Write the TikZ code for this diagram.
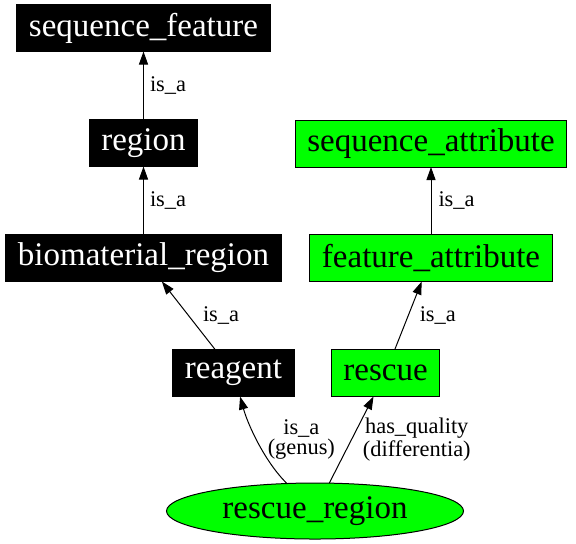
\documentclass[tikz,border=0pt]{standalone}
\usepackage{fontspec}
\setmainfont{Liberation Serif}
\usetikzlibrary{arrows.meta,shapes.geometric}
\definecolor{gvgreen}{RGB}{0,255,0}

\begin{document}
\begin{tikzpicture}[
    x=0.5pt, y=-0.5pt,
    term/.style={rectangle, draw=black, line width=0.5pt, minimum height=23.5pt, inner xsep=6pt, inner ysep=0pt, outer sep=0pt, font=\fontsize{16.5}{19}\selectfont},
    blackbox/.style={term, fill=black, text=white},
    greenbox/.style={term, fill=gvgreen, text=black},
    oval/.style={ellipse, draw=black, line width=0.5pt, fill=gvgreen, minimum width=148.5pt, minimum height=28pt, inner sep=0pt, outer sep=0pt, font=\fontsize{16.5}{19}\selectfont},
    edge/.style={line width=0.5pt, draw=black, -{Triangle[length=6.5pt, width=4.5pt]}},
    lbl/.style={font=\fontsize{11.2}{10}\selectfont, align=center, inner sep=1pt}
]
    \useasboundingbox (0,0) rectangle (576,543);

    % ==================== LEFT COLUMN ====================
    \node[blackbox] (seqfeat) at (143.5, 28) {sequence\_feature};
    \node[blackbox] (region) at (143.5, 143) {region};
    \node[blackbox] (biomat) at (143.5, 258) {biomaterial\_region};
    \node[blackbox] (reagent) at (233.5, 373) {reagent};

    % ==================== RIGHT COLUMN ====================
    \node[greenbox] (seqattr) at (431, 143.5) {sequence\_attribute};
    \node[greenbox] (featattr) at (431, 258) {feature\_attribute};
    \node[greenbox] (rescue) at (385.5, 373) {rescue};

    % ==================== BOTTOM ====================
    \node[oval] (rescreg) at (315, 511) {rescue\_region};

    % Edges
    \draw[edge] (region) -- node[lbl, right=2pt] (l1) {is\_a} (seqfeat);
    \draw[edge] (biomat) -- node[lbl, right=2pt] (l2) {is\_a} (region);
    \draw[edge] (reagent) -- node[lbl, right=6pt] (l3) {is\_a} (biomat);
    \draw[edge] (featattr) -- node[lbl, right=2.5pt] (l4) {is\_a} (seqattr);
    \draw[edge] (rescue) -- node[lbl, right=4.5pt] (l5) {is\_a} (featattr);
    \draw[edge] (rescreg) .. controls (265, 462) and (248, 425) .. node[lbl, right=3.5pt, yshift=1.5pt] (l6) {is\_a\\(genus)} (reagent);
    \draw[edge] (rescreg) -- node[lbl, right=4.5pt] (l7) {has\_quality\\(differentia)} (rescue);

\end{tikzpicture}
\end{document}
